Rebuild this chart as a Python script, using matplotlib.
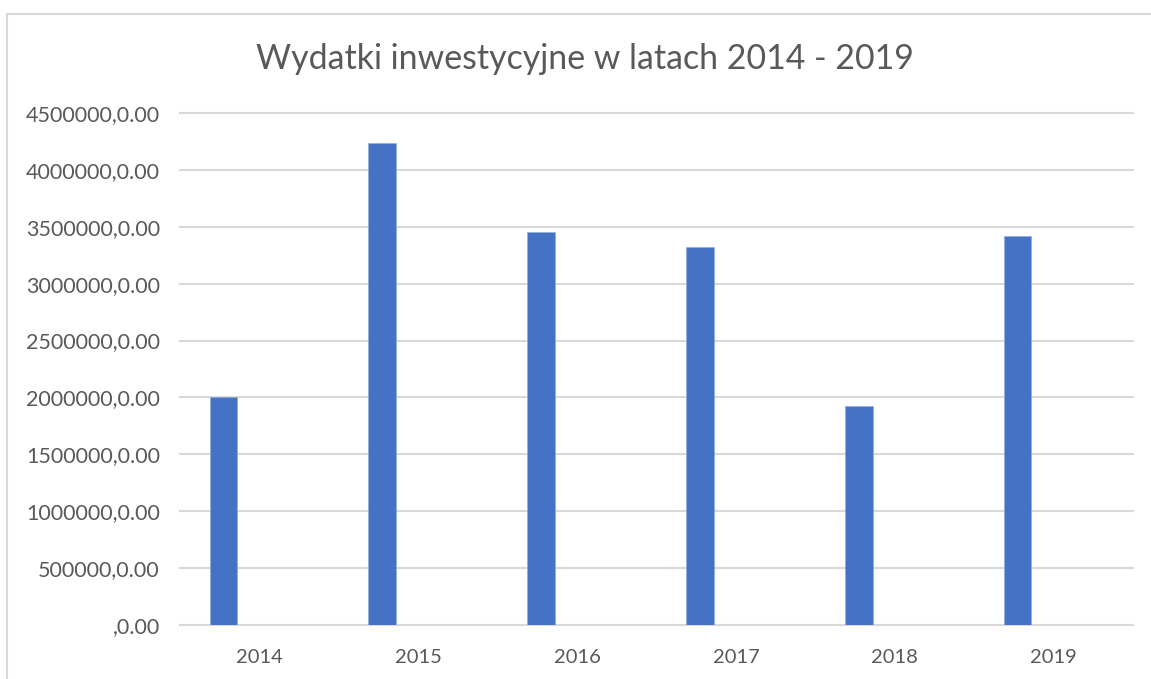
import numpy as np
import matplotlib
matplotlib.use("Agg")
import matplotlib.pyplot as plt
from matplotlib.patches import Rectangle
from matplotlib.ticker import FuncFormatter, MultipleLocator

plt.rcParams["font.family"] = ["Lato", "DejaVu Sans"]

# data
years = ["2014", "2015", "2016", "2017", "2018", "2019"]
spending = [2000000, 4240000, 3455000, 3320000, 1925000, 3420000]

bar_color = "#4472C4"
grid_color = "#d9d9d9"
text_color = "#595959"

W, H = 1151, 679
fig = plt.figure(figsize=(W / 100, H / 100), dpi=100)

# outer chart frame (Excel chart area)
fig.patches.append(Rectangle((7 / W, -0.1), 1.2, (H - 14) / H + 0.1,
                             transform=fig.transFigure, fill=False,
                             edgecolor=grid_color, linewidth=1.5))

ax = fig.add_axes([180 / W, (H - 625) / H, (1133 - 180) / W, (625 - 113) / H])

x = np.arange(len(years))
ax.bar(x - 0.227, spending, width=0.174, color=bar_color,
       edgecolor="#8faadc", linewidth=0.4, zorder=3)

ax.set_xlim(-0.5, len(years) - 0.5)
ax.set_ylim(0, 4500000)
ax.yaxis.set_major_locator(MultipleLocator(500000))


def fmt(v, pos):
    v = int(round(v))
    return ",0.00" if v == 0 else f"{v},0.00"


ax.yaxis.set_major_formatter(FuncFormatter(fmt))
ax.set_xticks(x)
ax.set_xticklabels(years)

ax.grid(axis="y", color=grid_color, linewidth=1.5, zorder=0)
for gl in ax.get_ygridlines():
    gl.set_clip_on(False)
for s in ax.spines.values():
    s.set_visible(False)
ax.tick_params(axis="both", length=0, colors=text_color)
ax.tick_params(axis="y", pad=14.5, labelsize=15.5)
ax.tick_params(axis="x", pad=17, labelsize=14.5)

fig.text(585 / W, 1 - 59 / H, "Wydatki inwestycyjne w latach 2014 - 2019",
         ha="center", va="center", fontsize=24.4, color=text_color)

fig.savefig("out.png", dpi=100)
